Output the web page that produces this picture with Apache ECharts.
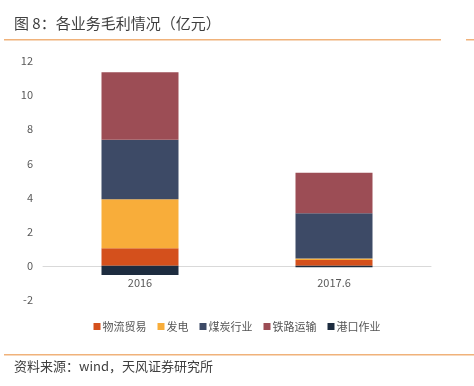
<!DOCTYPE html>
<html><head><meta charset="utf-8">
<script src="https://cdn.jsdelivr.net/npm/echarts@6/dist/echarts.min.js"></script>
<style>html,body{margin:0;padding:0;background:#fff}#c{width:474px;height:386px}</style>
</head><body><div id="c"></div>
<script>
const categories = ['2016', '2017.6'];
const seriesNames = ['物流贸易', '发电', '煤炭行业', '铁路运输', '港口作业'];
const logistics = [1.03, 0.35];
const power = [2.87, 0.08];
const coal = [3.48, 2.65];
const rail = [3.96, 2.38];
const port = [-0.54, -0.08];
const yTicks = [-2, 0, 2, 4, 6, 8, 10, 12];
const colors = ['#D4501C', '#F8AD3A', '#3D4A66', '#9C4D55', '#1D2C3F'];
const values = [logistics, power, coal, rail, port];
const font = '"Noto Sans CJK SC", "Noto Sans", sans-serif';

const gridTop = 61, gridBottom = 86, H = 386;
const yMin = yTicks[0], yMax = yTicks[yTicks.length - 1];
const plotH = H - gridTop - gridBottom;
const zeroOffset = -Math.round(plotH * (0 - yMin) / (yMax - yMin));

const chart = echarts.init(document.getElementById('c'), null, {renderer: 'canvas'});
chart.setOption({
  animation: false,
  backgroundColor: '#fff',
  textStyle: {fontFamily: font},
  grid: {left: 43, right: 43, top: gridTop, bottom: gridBottom},
  legend: {
    data: seriesNames, bottom: 49, left: 228, icon: 'rect', left: 'center',
    itemWidth: 7, itemHeight: 7, itemGap: 11,
    textStyle: {fontSize: 11, color: '#555', fontFamily: font, padding: [0, 0, 0, -3]}
  },
  xAxis: {
    type: 'category', data: categories, position: 'bottom', offset: zeroOffset,
    axisLine: {onZero: false, lineStyle: {color: '#D9D9D9', width: 1}},
    axisTick: {show: false},
    axisLabel: {color: '#595959', fontSize: 11, margin: 11}
  },
  yAxis: {
    type: 'value', min: yMin, max: yMax, interval: 2,
    splitLine: {show: false}, axisLine: {show: false}, axisTick: {show: false},
    axisLabel: {color: '#595959', fontSize: 11, margin: 10}
  },
  series: seriesNames.map((n, i) => ({
    name: n, type: 'bar', stack: 'total', barWidth: 77,
    itemStyle: {color: colors[i]}, data: values[i]
  })),
  graphic: [
    {type: 'text', left: 14, top: 16, style: {text: '图 8：各业务毛利情况（亿元）', fontSize: 15, fill: '#3F3F3F', fontFamily: font}},
    {type: 'rect', shape: {x: 4, y: 39, width: 437, height: 1.5}, style: {fill: '#F0B27A'}},
    {type: 'rect', shape: {x: 466, y: 39, width: 8, height: 1.5}, style: {fill: '#F0B27A'}},
    {type: 'rect', shape: {x: 4, y: 354, width: 470, height: 1.5}, style: {fill: '#F0B27A'}},
    {type: 'text', left: 14, top: 360, style: {text: '资料来源：wind，天风证券研究所', fontSize: 13, fill: '#3F3F3F', fontFamily: font}}
  ]
});
</script></body></html>
